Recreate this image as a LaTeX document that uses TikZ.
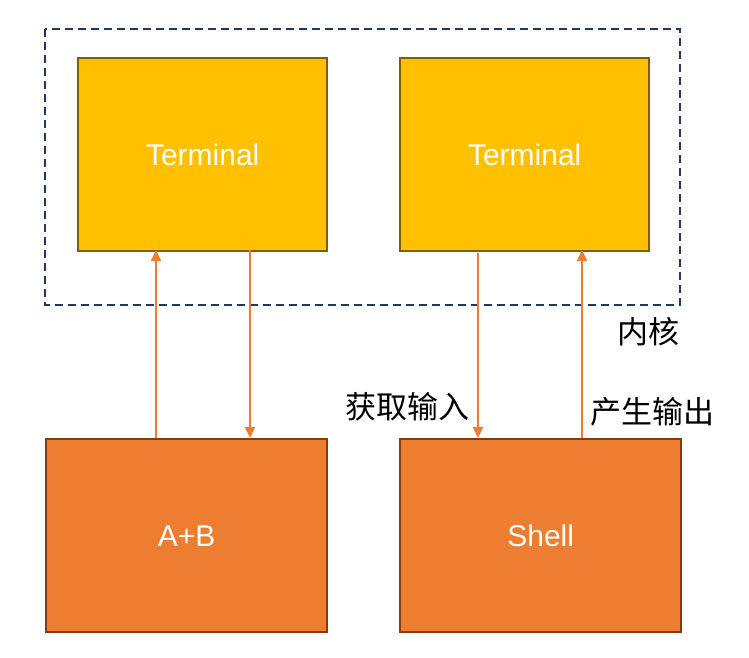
\documentclass[tikz,border=0pt]{standalone}
\usepackage{fontspec}
\setmainfont{Liberation Sans}
\newfontfamily\cjkfont{Noto Sans CJK SC}
\usetikzlibrary{arrows.meta}
\definecolor{termfill}{HTML}{FFC000}
\definecolor{termdraw}{HTML}{7F6000}
\definecolor{procfill}{HTML}{ED7D31}
\definecolor{procdraw}{HTML}{843C0C}
\definecolor{arrowc}{HTML}{ED7D31}
\definecolor{dashc}{HTML}{1F3864}
\tikzset{
  termbox/.style={draw=termdraw, fill=termfill, line width=2.4pt, minimum width=249pt, minimum height=193pt, inner sep=0pt, text=white, font=\fontsize{30}{34}\selectfont, anchor=north west},
  procbox/.style={draw=procdraw, fill=procfill, line width=2.4pt, minimum width=281pt, minimum height=193pt, inner sep=0pt, text=white, font=\fontsize{30}{34}\selectfont, anchor=north west},
  link/.style={draw=arrowc, line width=2pt, -{Triangle[length=11pt,width=10pt]}},
  lab/.style={font=\cjkfont\fontsize{31}{34}\selectfont, inner sep=0pt},
  kernel/.style={draw=dashc, line width=1.6pt, dash pattern=on 8pt off 5pt}
}
\begin{document}
\begin{tikzpicture}[x=1pt,y=-1pt]
\useasboundingbox (0,0) rectangle (749,658);
\draw[kernel] (45,29) rectangle (680,305);
\node[termbox] (t1) at (77,57) {Terminal};
\node[termbox] (t2) at (399,57) {Terminal};
\node[procbox] (ab) at (45,438) {A+B};
\node[procbox] (sh) at (399,438) {Shell};
\coordinate (a1s) at (156,438); \coordinate (a1e) at (156,250);
\coordinate (a2s) at (250,250); \coordinate (a2e) at (250,438);
\coordinate (a3s) at (478,253); \coordinate (a3e) at (478,438);
\coordinate (a4s) at (582,438); \coordinate (a4e) at (582,250);
\draw[link] (a1s) -- (a1e);
\draw[link] (a2s) -- (a2e);
\draw[link] (a3s) -- (a3e);
\draw[link] (a4s) -- (a4e);
\node[lab, anchor=east] (k) at (680,332) {内核};
\node[lab, anchor=east] (in) at (470,407) {获取输入};
\node[lab, anchor=west] (out) at (590,412) {产生输出};
\end{tikzpicture}
\end{document}
